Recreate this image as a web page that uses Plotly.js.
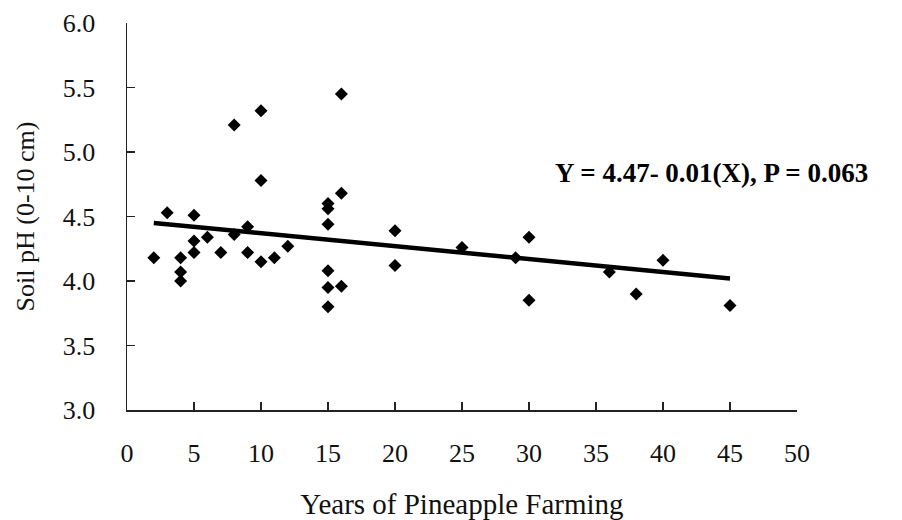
<!DOCTYPE html>
<html>
<head>
<meta charset="utf-8">
<script src="https://cdn.plot.ly/plotly-3.0.1.min.js"></script>
<style>html,body{margin:0;padding:0;background:#fff;}#chart{width:902px;height:520px;}</style>
</head>
<body>
<div id="chart"></div>
<script>
// Years of pineapple farming (x) and soil pH 0-10 cm (y)
const years = [2,3,4,4,4,5,5,5,6,7,8,8,9,9,10,10,10,11,12,15,15,15,15,15,15,16,16,16,20,20,25,29,30,30,36,38,40,45];
const soilPH = [4.18,4.53,4.18,4.07,4.00,4.51,4.31,4.22,4.34,4.22,5.21,4.36,4.42,4.22,5.32,4.78,4.15,4.18,4.27,4.60,4.56,4.44,4.08,3.95,3.80,5.45,4.68,3.96,4.39,4.12,4.26,4.18,4.34,3.85,4.07,3.90,4.16,3.81];
// Regression: Y = 4.47 - 0.01(X)
const fitIntercept = 4.47;
const fitSlope = -0.01;
const fitX = [2, 45];
const fitY = fitX.map(x => fitIntercept + fitSlope * x);
const xTicks = [0,5,10,15,20,25,30,35,40,45,50];
const yTicks = [3.0,3.5,4.0,4.5,5.0,5.5,6.0];
const yTickText = yTicks.map(v => v.toFixed(1));
const eqText = "Y = 4.47- 0.01(X), P = 0.063";

const serif = "Liberation Serif, Times New Roman, serif";

const traces = [
  {
    x: years, y: soilPH, type: "scatter", mode: "markers",
    marker: {symbol: "diamond", size: 10, color: "#000"},
    cliponaxis: false, showlegend: false, hoverinfo: "x+y"
  },
  {
    x: fitX, y: fitY, type: "scatter", mode: "lines",
    line: {color: "#000", width: 4.5}, showlegend: false, hoverinfo: "skip"
  }
];

const layout = {
  width: 902, height: 520,
  margin: {l: 126.5, r: 105, t: 22.5, b: 109.5},
  paper_bgcolor: "#fff", plot_bgcolor: "#fff",
  font: {family: serif, color: "#111"},
  showlegend: false,
  xaxis: {
    range: [0, 50], tickvals: xTicks, ticktext: xTicks.map(String),
    showgrid: false, zeroline: false,
    showline: true, linecolor: "#222", linewidth: 1.5,
    ticks: "inside", ticklen: 8, tickwidth: 1.5, tickcolor: "#222",
    ticklabelstandoff: 19,
    tickfont: {family: serif, size: 26, color: "#111"},
    title: {text: "Years of Pineapple Farming", font: {family: serif, size: 29, color: "#111"}, standoff: 34},
    automargin: false
  },
  yaxis: {
    range: [3, 6], tickvals: yTicks, ticktext: yTickText,
    showgrid: false, zeroline: false,
    showline: true, linecolor: "#222", linewidth: 1.5,
    ticks: "inside", ticklen: 8, tickwidth: 1.5, tickcolor: "#222",
    ticklabelstandoff: 25,
    tickfont: {family: serif, size: 26, color: "#111"},
    title: {text: "Soil pH (0-10 cm)", font: {family: serif, size: 26, color: "#111"}, standoff: 20},
    automargin: false
  },
  annotations: [
    {
      x: 43.6, y: 4.84, xref: "x", yref: "y", text: "<b>" + eqText + "</b>",
      showarrow: false, xanchor: "center", yanchor: "middle",
      font: {family: serif, size: 27, color: "#000"}
    }
  ]
};

Plotly.newPlot("chart", traces, layout, {displayModeBar: false, staticPlot: true});
</script>
</body>
</html>
